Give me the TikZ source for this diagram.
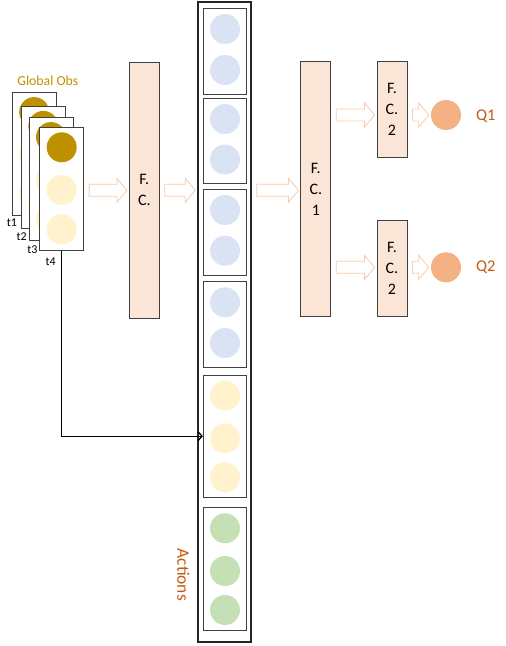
\documentclass[tikz,border=0pt]{standalone}
\usepackage{fontspec}
\setmainfont{Carlito}
\usetikzlibrary{calc,arrows.meta}
\definecolor{fcfill}{HTML}{FBE5D6}
\definecolor{boxline}{HTML}{404040}
\definecolor{obsblue}{HTML}{DAE3F3}
\definecolor{obsyellow}{HTML}{FFF2CC}
\definecolor{obsgreen}{HTML}{C5E0B4}
\definecolor{obsgold}{HTML}{BF9000}
\definecolor{qfill}{HTML}{F4B183}
\definecolor{arrowedge}{HTML}{F8CBAD}
\definecolor{labelorange}{HTML}{C55A11}
% hollow block arrow from node #1 to node #2, at the height of #3
\def\blockarrow(#1)(#2)(#3){\draw[arrowline] ($(#1 |- #3)+(5,-6)$) -- ($(#2 |- #3)+(-12,-6)$) -- ($(#2 |- #3)+(-12,-12)$) -- ($(#2 |- #3)+(-2,0)$) -- ($(#2 |- #3)+(-12,12)$) -- ($(#2 |- #3)+(-12,6)$) -- ($(#1 |- #3)+(5,6)$) -- cycle;}

\begin{document}
\begin{tikzpicture}[x=1bp,y=-1bp,
	fcbox/.style={draw=boxline, fill=fcfill, line width=0.8bp, minimum width=30bp, inner sep=0pt, align=center, font=\fontsize{16}{21}\selectfont},
	obsbox/.style={draw=boxline, fill=white, line width=0.8bp, minimum width=44bp, minimum height=122.5bp, inner sep=0pt},
	slotbox/.style={draw=boxline, line width=0.8bp, minimum width=43.4bp, inner sep=0pt},
	cell/.style={circle, minimum size=30bp, inner sep=0pt},
	arrowline/.style={draw=arrowedge, fill=white, line width=0.8bp},
	tlabel/.style={font=\fontsize{12}{14}\selectfont, inner sep=0pt}]
			%%%%% START %%%%%
			
			\useasboundingbox (0, 0) rectangle (506, 646);
			
			% stacked observations
			\node[obsbox] (obs1) at (34.2, 153.7) {};
			\node[cell, fill=obsgold] (g1a) at ($(obs1)+(0,-41.6)$) {};
			\node[cell, fill=obsyellow] (g1b) at ($(obs1)+(0,1.1)$) {};
			\node[cell, fill=obsyellow] (g1c) at ($(obs1)+(0,40.4)$) {};
			
			\node[obsbox] (obs2) at (43.3, 167.5) {};
			\node[cell, fill=obsgold] (g2a) at ($(obs2)+(0,-41.6)$) {};
			\node[cell, fill=obsyellow] (g2b) at ($(obs2)+(0,1.1)$) {};
			\node[cell, fill=obsyellow] (g2c) at ($(obs2)+(0,40.4)$) {};
			
			\node[obsbox] (obs3) at (51.0, 178.7) {};
			\node[cell, fill=obsgold] (g3a) at ($(obs3)+(0,-41.6)$) {};
			\node[cell, fill=obsyellow] (g3b) at ($(obs3)+(0,1.1)$) {};
			\node[cell, fill=obsyellow] (g3c) at ($(obs3)+(0,40.4)$) {};
			
			\node[obsbox] (obs4) at (61.7, 188.9) {};
			\node[cell, fill=obsgold] (g4a) at ($(obs4)+(0,-41.6)$) {};
			\node[cell, fill=obsyellow] (g4b) at ($(obs4)+(0,1.1)$) {};
			\node[cell, fill=obsyellow] (g4c) at ($(obs4)+(0,40.4)$) {};
			
			\node[tlabel] (t1) at (12.0, 222.7) {t1};
			\node[tlabel] (t2) at (21.7, 236.7) {t2};
			\node[tlabel] (t3) at (32.3, 249.3) {t3};
			\node[tlabel] (t4) at (50.7, 261.7) {t4};
			\node[font=\fontsize{13.8}{16}\selectfont, text=obsgold, inner sep=0pt] (globobs) at (47.8, 80.7) {Global Obs};
			
			% first layer
			\node[fcbox, minimum height=255.3bp] (fc) at (144.3, 190.3) {F.\\C.};
			
			% action column
			\node[draw=black!85, line width=1.5bp, minimum width=53bp, minimum height=639.5bp, inner sep=0pt] (actcol) at (224.5, 322) {};
			\node[slotbox, minimum height=85.7bp] (box1) at (225, 51.2) {};
			\node[slotbox, minimum height=85bp] (box2) at (225, 140.8) {};
			\node[slotbox, minimum height=85.7bp] (box3) at (225, 232.2) {};
			\node[slotbox, minimum height=86.3bp] (box4) at (225, 324.2) {};
			\node[slotbox, minimum height=121.5bp] (box5) at (225, 436.2) {};
			\node[slotbox, minimum height=122.3bp] (box6) at (225, 568.9) {};
			
			\node[cell, fill=obsblue] (a1) at (225, 29.0) {};
			\node[cell, fill=obsblue] (a2) at (225, 70.0) {};
			\node[cell, fill=obsblue] (a3) at (225, 119.0) {};
			\node[cell, fill=obsblue] (a4) at (225, 159.5) {};
			\node[cell, fill=obsblue] (a5) at (225, 210.0) {};
			\node[cell, fill=obsblue] (a6) at (225, 250.7) {};
			\node[cell, fill=obsblue] (a7) at (225, 302.3) {};
			\node[cell, fill=obsblue] (a8) at (225, 343.0) {};
			\node[cell, fill=obsyellow] (a9) at (225, 395.7) {};
			\node[cell, fill=obsyellow] (a10) at (225, 438.3) {};
			\node[cell, fill=obsyellow] (a11) at (225, 477.3) {};
			\node[cell, fill=obsgreen] (a12) at (225, 528.3) {};
			\node[cell, fill=obsgreen] (a13) at (225, 571.0) {};
			\node[cell, fill=obsgreen] (a14) at (225, 610.0) {};
			
			\node[rotate=-90, font=\fontsize{17.5}{20}\selectfont, text=labelorange, inner sep=0pt] (actions) at (183.3, 574.7) {Actions};
			
			% heads
			\node[fcbox, minimum height=255bp] (fcone) at (315.8, 189.2) {F.\\C.\\1};
			\node[fcbox, minimum height=95.6bp] (fctwoa) at (392, 109.5) {F.\\C.\\2};
			\node[fcbox, minimum height=96bp] (fctwob) at (392, 268.7) {F.\\C.\\2};
			\node[cell, fill=qfill] (q1) at (446, 115) {};
			\node[cell, fill=qfill] (q2) at (446, 267.3) {};
			\node[font=\fontsize{16.5}{19}\selectfont, text=labelorange, inner sep=0pt] (qone) at (485.7, 116.7) {Q1};
			\node[font=\fontsize{16.5}{19}\selectfont, text=labelorange, inner sep=0pt] (qtwo) at (485.7, 267.3) {Q2};
			
			% block arrows
			\blockarrow(obs4.east)(fc.west)(fc.west)
			\blockarrow(fc.east)(actcol.west)(fc.east)
			\blockarrow(actcol.east)(fcone.west)(fc.east)
			\blockarrow(fcone.east)(fctwoa.west)(q1)
			\blockarrow(fcone.east)(fctwob.west)(q2)
			\blockarrow(fctwoa.east)(q1.west)(q1)
			\blockarrow(fctwob.east)(q2.west)(q2)
			
			% observation into action slot
			\draw[line width=1.3bp, -{Straight Barb[length=4bp,width=9bp]}] (obs4.south) |- (box5.west);
			
			%%%%% END %%%%%
\end{tikzpicture}
\end{document}
